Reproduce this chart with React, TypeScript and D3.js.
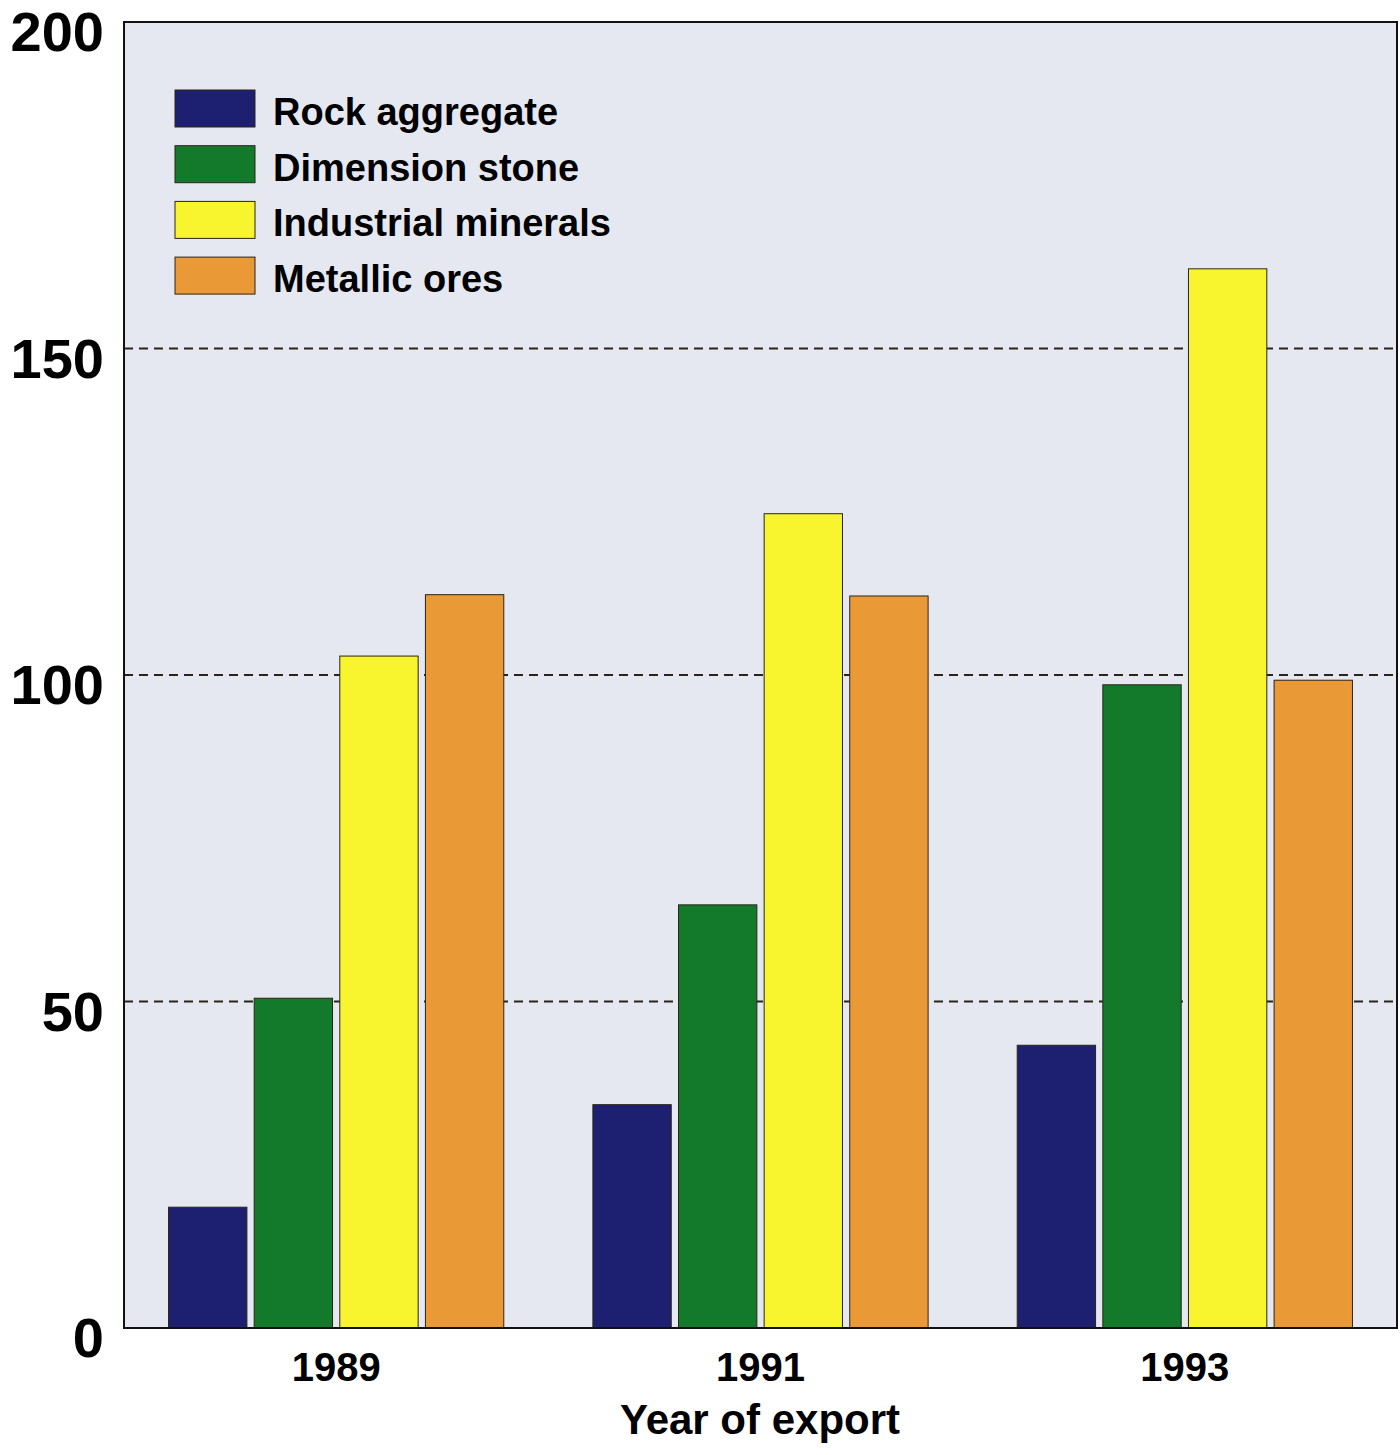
import { useMemo } from 'react'
import * as d3 from 'd3'

// Values
const years = ['1989', '1991', '1993']
const series = ['Rock aggregate', 'Dimension stone', 'Industrial minerals', 'Metallic ores']
const rockAggregate = [18.5, 34.2, 43.3]
const dimensionStone = [50.5, 64.8, 98.5]
const industrialMinerals = [102.9, 124.7, 162.2]
const metallicOres = [112.3, 112.1, 99.2]
const yTicks = [0, 50, 100, 150, 200]
const gridTicks = [50, 100, 150]

const colors = ['#1d1f70', '#137a2c', '#f8f52f', '#e99a36']
const font = '"Liberation Sans", Arial, Helvetica, sans-serif'

const W = 1400
const H = 1455
const margin = { top: 22, right: 3, bottom: 127, left: 124 }

export default function App() {
  const values = [rockAggregate, dimensionStone, industrialMinerals, metallicOres]

  const x0 = useMemo(() => d3.scaleBand()
    .domain(years)
    .range([margin.left, W - margin.right])
    .paddingInner(0.21)
    .paddingOuter(0.105), [])

  const x1 = useMemo(() => d3.scaleBand()
    .domain(series)
    .range([0, x0.bandwidth()])
    .paddingInner(0.085), [x0])

  const y = useMemo(() => d3.scaleLinear()
    .domain([0, 200])
    .range([H - margin.bottom, margin.top]), [])

  const plotW = W - margin.left - margin.right
  const plotH = H - margin.top - margin.bottom

  return (
    <svg width={W} height={H} style={{ position: 'absolute', left: 0, top: 0, display: 'block', background: '#fff' }}>
      {/* plot background */}
      <rect x={margin.left} y={margin.top} width={plotW} height={plotH} fill="#e6e8f1" />

      {/* dashed gridlines */}
      {gridTicks.map(t => (
        <line key={t} x1={margin.left} x2={W - margin.right} y1={y(t)} y2={y(t)}
          stroke="#2a2418" strokeWidth={2} strokeDasharray="9,6" />
      ))}

      {/* bars */}
      {years.map((yr, i) => (
        <g key={yr} transform={`translate(${x0(yr)},0)`}>
          {series.map((s, j) => (
            <rect key={s}
              x={x1(s)} y={y(values[j][i])}
              width={x1.bandwidth()} height={y(0) - y(values[j][i])}
              fill={colors[j]} stroke="#2a2418" strokeWidth={1} />
          ))}
        </g>
      ))}

      {/* frame */}
      <rect x={margin.left} y={margin.top} width={plotW} height={plotH}
        fill="none" stroke="#111" strokeWidth={2} />

      {/* y tick labels */}
      {yTicks.map(t => (
        <text key={t} x={104} y={y(t) + 29} textAnchor="end"
          fontFamily={font} fontWeight="bold" fontSize={56} fill="#000">{t}</text>
      ))}

      {/* x tick labels */}
      {years.map(yr => (
        <text key={yr} x={x0(yr)! + x0.bandwidth() / 2} y={1381} textAnchor="middle"
          fontFamily={font} fontWeight="bold" fontSize={40} fill="#000">{yr}</text>
      ))}

      <text x={760} y={1434} textAnchor="middle" fontFamily={font} fontWeight="bold"
        fontSize={42} fill="#000">Year of export</text>

      {/* legend */}
      {series.map((s, j) => (
        <g key={s} transform={`translate(175,${90 + j * 55.7})`}>
          <rect width={80} height={37} fill={colors[j]} stroke="#2a2418" strokeWidth={1} />
          <text x={98} y={35} fontFamily={font} fontWeight="bold" fontSize={38} fill="#000">{s}</text>
        </g>
      ))}
    </svg>
  )
}
